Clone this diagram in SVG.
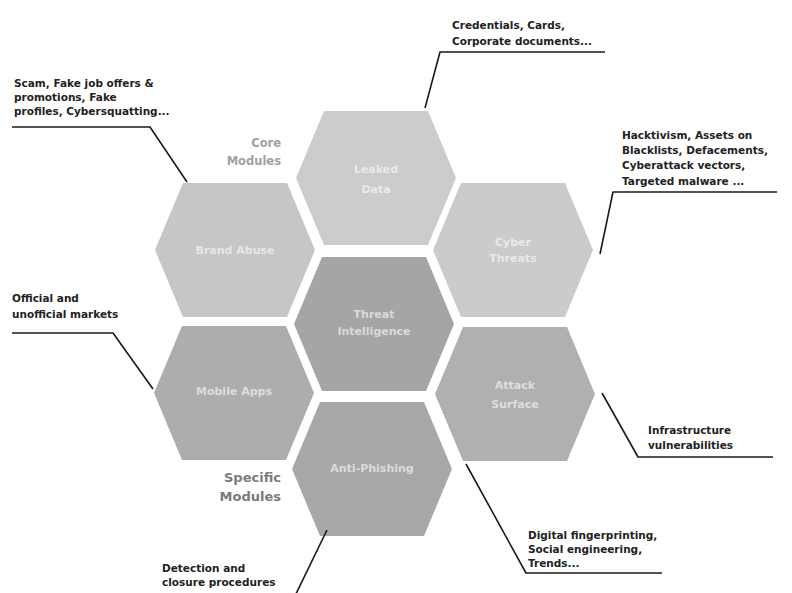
<svg xmlns="http://www.w3.org/2000/svg" width="792" height="593" viewBox="0 0 792 593">
<defs>
<style>
.hex{stroke:none}
.lbl{font-family:"DejaVu Sans","Liberation Sans",sans-serif;font-weight:bold;font-size:11px;fill:#ffffff;fill-opacity:0.6;text-anchor:middle}
.note{font-family:"DejaVu Sans","Liberation Sans",sans-serif;font-weight:bold;font-size:10.5px;fill:#222}
.lead{fill:none;stroke:#1a1a1a;stroke-width:1.6;stroke-linejoin:round}
.grp{font-family:"DejaVu Sans","Liberation Sans",sans-serif;font-weight:bold;text-anchor:end}
</style>
<polygon id="hx" points="-80,0 -52,-67 52,-67 80,0 52,67 -52,67"/>
</defs>
<rect width="792" height="593" fill="#ffffff"/>

<g id="hex-top"><use href="#hx" x="376" y="178" fill="#cccccc"/><text class="lbl" x="376" y="173">Leaked</text><text class="lbl" x="376" y="193">Data</text></g>
<g id="hex-left-top"><use href="#hx" x="235" y="250" fill="#c6c6c6"/><text class="lbl" x="235" y="254">Brand Abuse</text></g>
<g id="hex-right-top"><use href="#hx" x="513" y="250" fill="#cbcbcb"/><text class="lbl" x="513" y="246">Cyber</text><text class="lbl" x="513" y="262">Threats</text></g>
<g id="hex-center"><use href="#hx" x="374" y="324" fill="#a5a5a5"/><text class="lbl" x="374" y="318">Threat</text><text class="lbl" x="374" y="335">Intelligence</text></g>
<g id="hex-left-bottom"><use href="#hx" x="234" y="393" fill="#adadad"/><text class="lbl" x="234" y="395">Mobile Apps</text></g>
<g id="hex-right-bottom"><use href="#hx" x="515" y="394" fill="#b0b0b0"/><text class="lbl" x="515" y="389">Attack</text><text class="lbl" x="515" y="408">Surface</text></g>
<g id="hex-bottom"><use href="#hx" x="372" y="469" fill="#a8a8a8"/><text class="lbl" x="372" y="472">Anti-Phishing</text></g>

<g id="group-labels">
<text class="grp" x="281" y="147" font-size="11.5" fill="#a0a0a0">Core</text>
<text class="grp" x="281" y="165" font-size="11.5" fill="#a0a0a0">Modules</text>
<text class="grp" x="281" y="482" font-size="13" fill="#7a7a7a">Specific</text>
<text class="grp" x="281" y="501" font-size="13" fill="#7a7a7a">Modules</text>
</g>

<g id="connectors">
<polyline class="lead" points="12,127 150,127 187,182"/>
<polyline class="lead" points="605,52 440,52 425,108"/>
<polyline class="lead" points="777,192 613,192 600,254"/>
<polyline class="lead" points="12,333 113,333 153,389"/>
<polyline class="lead" points="773,457 638,457 602,393"/>
<polyline class="lead" points="662,573 526,573 466,464"/>
<polyline class="lead" points="294,598 327,530"/>
</g>

<g id="notes">
<text class="note" x="14" y="87">Scam, Fake job offers &amp;</text>
<text class="note" x="14" y="101">promotions, Fake</text>
<text class="note" x="14" y="115">profiles, Cybersquatting...</text>
<text class="note" x="452" y="29">Credentials, Cards,</text>
<text class="note" x="452" y="45">Corporate documents...</text>
<text class="note" x="622" y="139">Hacktivism, Assets on</text>
<text class="note" x="622" y="154">Blacklists, Defacements,</text>
<text class="note" x="622" y="169">Cyberattack vectors,</text>
<text class="note" x="622" y="185">Targeted malware ...</text>
<text class="note" x="12" y="302">Official and</text>
<text class="note" x="12" y="318">unofficial markets</text>
<text class="note" x="648" y="434">Infrastructure</text>
<text class="note" x="648" y="449">vulnerabilities</text>
<text class="note" x="528" y="539">Digital fingerprinting,</text>
<text class="note" x="528" y="553">Social engineering,</text>
<text class="note" x="528" y="567">Trends...</text>
<text class="note" x="162" y="572">Detection and</text>
<text class="note" x="162" y="586">closure procedures</text>
</g>
</svg>
